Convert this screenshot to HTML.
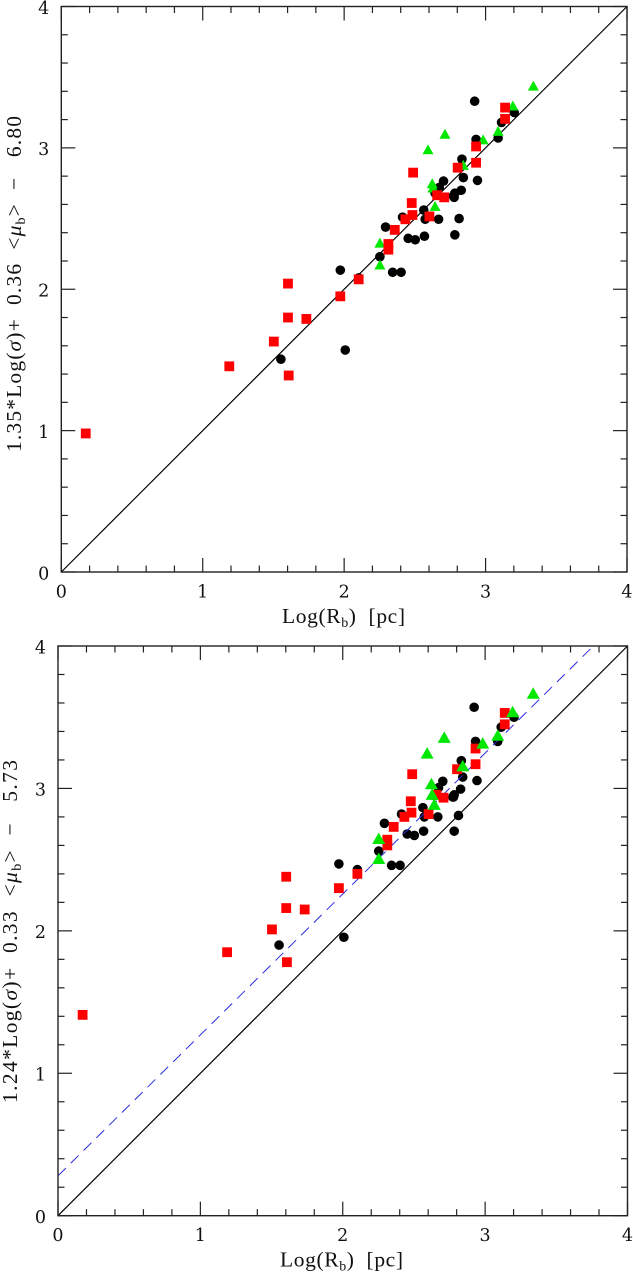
<!DOCTYPE html>
<html lang="en">
<head>
<meta charset="utf-8">
<title>Fundamental plane comparison</title>
<style>
html,body{margin:0;padding:0;background:#fff;}
svg{display:block;}
text{font-family:"DejaVu Serif","Liberation Serif",serif;fill:#111;}
.lbl{font-family:"Liberation Serif","DejaVu Serif",serif;font-size:21.5px;}
</style>
</head>
<body>
<svg id="chart" xmlns="http://www.w3.org/2000/svg" width="633" height="1275" viewBox="0 0 633 1275"></svg>
<script>
// X values: Log(Rb), shared by both panels
const circleLogR = [2.92,3.20,3.11,3.086,2.93,2.83,2.84,2.94,2.70,2.825,2.67,2.64,2.77,2.78,2.775,2.56,2.41,2.57,2.665,2.81,2.29,2.45,2.50,2.565,2.78,2.25,2.34,2.40,2.10,1.97,2.005,1.55];
const squareLogR = [3.135,3.135,2.93,2.93,2.80,2.485,2.655,2.705,2.475,2.48,2.43,2.60,2.355,2.31,2.31,2.10,1.97,1.60,1.60,1.50,1.73,1.605,1.185,0.17];
const triangleLogR = [3.335,3.19,3.086,2.98,2.71,2.59,2.62,2.84,2.625,2.64,2.25,2.25];

// Upper panel Y values
const circleTop = [3.33,3.25,3.18,3.07,3.06,2.92,2.79,2.77,2.765,2.70,2.72,2.68,2.66,2.68,2.65,2.56,2.51,2.495,2.495,2.50,2.44,2.36,2.35,2.375,2.385,2.23,2.12,2.12,2.08,2.135,1.57,1.505];
const squareTop = [3.285,3.205,3.01,2.895,2.86,2.825,2.665,2.65,2.61,2.525,2.495,2.515,2.42,2.32,2.28,2.07,1.95,2.04,1.80,1.63,1.79,1.39,1.455,0.98];
const triangleTop = [3.44,3.30,3.12,3.06,3.10,2.99,2.75,2.88,2.72,2.59,2.33,2.175];

// Lower panel Y values
const circleBottom = [3.57,3.50,3.43,3.33,3.33,3.195,3.08,3.055,3.05,2.995,3.005,2.95,2.94,2.955,2.94,2.865,2.82,2.80,2.80,2.81,2.755,2.68,2.67,2.70,2.70,2.56,2.46,2.46,2.43,2.47,1.955,1.90];
const squareBottom = [3.53,3.45,3.28,3.17,3.135,3.10,2.955,2.935,2.91,2.83,2.80,2.82,2.73,2.64,2.60,2.40,2.30,2.38,2.16,2.01,2.15,1.78,1.85,1.41];
const triangleBottom = [3.67,3.54,3.375,3.32,3.36,3.25,3.035,3.16,2.96,2.89,2.65,2.51];

// Axis ticks
const majorTicks = [0,1,2,3,4];
const minorTicks = [0.2,0.4,0.6,0.8,1.2,1.4,1.6,1.8,2.2,2.4,2.6,2.8,3.2,3.4,3.6,3.8];
const tickLabels = ["0","1","2","3","4"];

// Reference lines: [x0, y0, x1, y1] in data units
const identityLine = [0,0,4,4];
const offsetLine = [0,0.28,3.76,4];

const NS = "http://www.w3.org/2000/svg";
const svg = document.getElementById("chart");

function el(parent, tag, attrs) {
  const e = document.createElementNS(NS, tag);
  for (const k in attrs) e.setAttribute(k, attrs[k]);
  parent.appendChild(e);
  return e;
}

function drawPanel(cfg) {
  const sx = v => cfg.left + (cfg.right - cfg.left) * v / 4;
  const sy = v => cfg.bottom - (cfg.bottom - cfg.top) * v / 4;

  const g = el(svg, "g", {});
  
  

  // black circles
  circleLogR.forEach((x, i) => {
    const m = el(g, "circle", {cx: sx(x) + 0.4, cy: sy(cfg.circles[i]), r: 4.8, fill: "#000"});
    
    
  });

  // reference lines
  const id = el(g, "line", {x1: sx(identityLine[0]), y1: sy(identityLine[1]), x2: sx(identityLine[2]), y2: sy(identityLine[3]), stroke: "#000", "stroke-width": 1.2});
  
  
  if (cfg.offset) {
    const off = el(g, "line", {x1: sx(offsetLine[0]), y1: sy(offsetLine[1]), x2: sx(offsetLine[2]), y2: sy(offsetLine[3]), stroke: "#2a2ae0", "stroke-width": 1, "stroke-dasharray": "11 7"});
    
    
  }

  const drawSquares = () => squareLogR.forEach((x, i) => {
    const s = 9.8;
    const m = el(g, "rect", {x: sx(x) + 0.4 - s / 2, y: sy(cfg.squares[i]) - s / 2, width: s, height: s, fill: "#f00"});
    
    
  });
  const drawTriangles = () => triangleLogR.forEach((x, i) => {
    const w = cfg.triW, h = cfg.triH;
    const px = sx(x) + 0.4, py = sy(cfg.triangles[i]);
    const m = el(g, "polygon", {points: (px - w / 2) + "," + (py + h / 2) + " " + (px + w / 2) + "," + (py + h / 2) + " " + px + "," + (py - h / 2), fill: "#00e800"});
    
    
  });
  if (cfg.trianglesOnTop) { drawSquares(); drawTriangles(); }
  else { drawTriangles(); drawSquares(); }

  // frame
  const frame = el(g, "rect", {x: cfg.left, y: cfg.top, width: cfg.right - cfg.left, height: cfg.bottom - cfg.top, fill: "none", stroke: "#222", "stroke-width": 1.4});
  
  

  // ticks
  const tick = (v, len) => {
    const xp = sx(v), yp = sy(v);
    const segs = [
      [xp, cfg.bottom, xp, cfg.bottom - len],
      [xp, cfg.top, xp, cfg.top + len],
      [cfg.left, yp, cfg.left + len, yp],
      [cfg.right, yp, cfg.right - len, yp]
    ];
    segs.forEach(s => {
      const t = el(g, "line", {x1: s[0], y1: s[1], x2: s[2], y2: s[3], stroke: "#222", "stroke-width": 1.2});
      
      
    });
  };
  minorTicks.forEach(v => tick(v, 6.5));
  majorTicks.forEach(v => tick(v, 14));

  // tick labels
  majorTicks.forEach((v, i) => {
    const xl = el(g, "text", {x: sx(v), y: cfg.bottom + 25.5, "text-anchor": "middle", "font-size": 17.5});
    xl.textContent = tickLabels[i];
    
    
    const yl = el(g, "text", {x: cfg.left - 12, y: sy(v) + 7.3, "text-anchor": "end", "font-size": 17.5});
    yl.textContent = tickLabels[i];
    
    
  });

  // axis titles
  const xt = el(g, "text", {x: cfg.xTitleX, y: cfg.bottom + 51, class: "lbl", textLength: 123, lengthAdjust: "spacing"});
  
  
  xt.innerHTML = 'Log(R<tspan font-size="14" dy="4">b</tspan><tspan dy="-4">)&#160;&#160;[pc]</tspan>';

  const yt = el(g, "text", {transform: "translate(" + cfg.yTitleX + "," + cfg.yTitleStart + ") rotate(-90)", x: 0, y: 0, class: "lbl", textLength: cfg.yTitleLen, lengthAdjust: "spacing"});
  
  
  yt.innerHTML = cfg.a + '*Log(<tspan font-style="italic">σ</tspan>)+&#160;&#160;' + cfg.b + '&#160;&#160;&lt;<tspan font-style="italic">μ</tspan><tspan font-size="14" dy="4">b</tspan><tspan dy="-4">&gt;&#160;&#160;−&#160;&#160;&#160;' + cfg.c + '</tspan>';
}

drawPanel({
  name: "upper-panel", left: 61.3, right: 627, top: 6.5, bottom: 572,
  circles: circleTop, squares: squareTop, triangles: triangleTop,
  triW: 11, triH: 10, trianglesOnTop: false, offset: false,
  xTitleX: 282, yTitleX: 21, yTitleStart: 452, yTitleLen: 336,
  a: "1.35", b: "0.36", c: "6.80"
});

drawPanel({
  name: "lower-panel", left: 58, right: 627.5, top: 646, bottom: 1215.7,
  circles: circleBottom, squares: squareBottom, triangles: triangleBottom,
  triW: 13, triH: 11.5, trianglesOnTop: true, offset: true,
  xTitleX: 280, yTitleX: 17, yTitleStart: 1103, yTitleLen: 343,
  a: "1.24", b: "0.33", c: "5.73"
});
</script>
</body>
</html>
